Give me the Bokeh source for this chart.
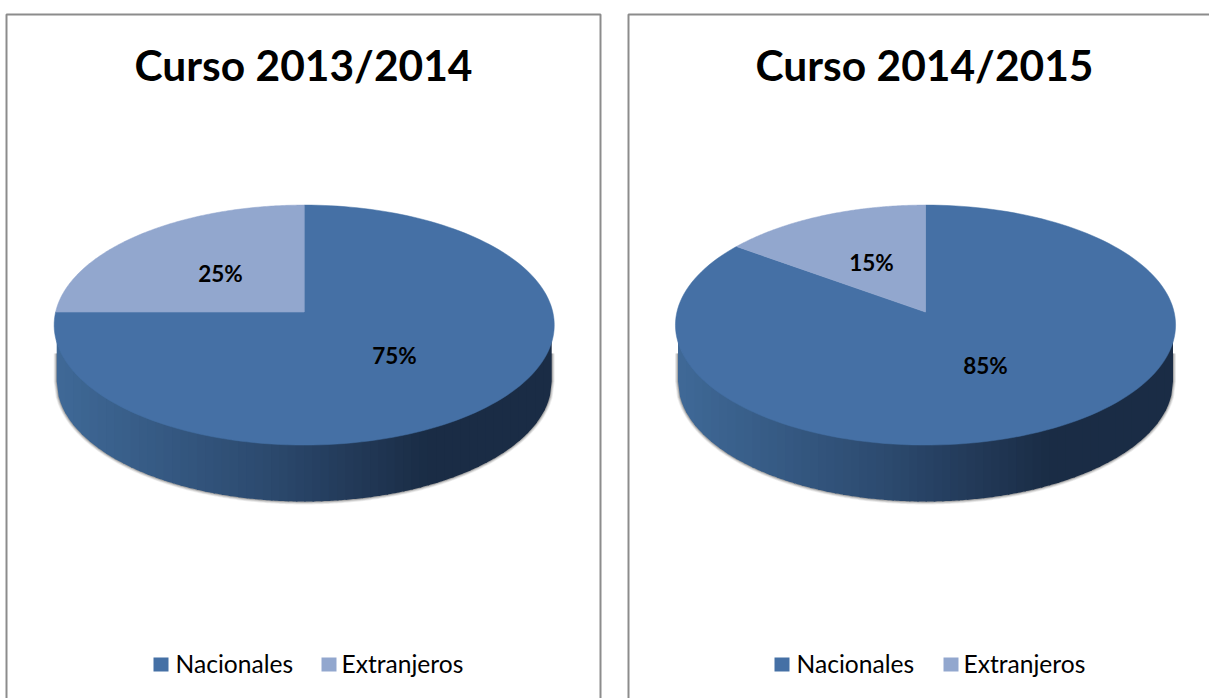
import numpy as np
from bokeh.embed import file_html
from bokeh.resources import INLINE
from bokeh.plotting import figure
from bokeh.layouts import row
from bokeh.core.properties import value

titles = ["Curso 2013/2014", "Curso 2014/2015"]
categories = ["Nacionales", "Extranjeros"]
nacionales = [75, 85]
extranjeros = [25, 15]
colors = ["#4570A5", "#92A7CE"]

# page-pixel geometry
PANELS = [(0, 614, 6, 600), (614, 1209, 628, 1240)]
CX = [303.7, 925]
LABEL_POS = [((394, 355), (220, 273)), ((985, 365), (871, 262))]
TITLE_X = [303, 924]
LEG_X = [(153, 175, 321, 341), (774, 796, 943, 963)]
VY, K, XS, YS = 311.6, 0.108, 248.6, 118.6
EY, EA, EB = 325.0, 250.0, 120.0
DEPTH = 56.0


def proj(cx, turn):
    th = 2 * np.pi * turn
    u, v = np.sin(th), np.cos(th)
    d = 1 + K * v
    return cx + XS * u / d, VY - YS * v / d


def wedge(cx, t0, t1):
    t = np.linspace(t0, t1, 160)
    x, y = proj(cx, t)
    return np.r_[cx, x], np.r_[VY, y]


def lerp_color(f):
    stops = [(0.0, (0x3F, 0x69, 0x97)), (0.42, (0x2C, 0x4A, 0x6F)), (0.75, (0x1A, 0x2C, 0x45)), (1.0, (0x1A, 0x2C, 0x45))]
    for (a, ca), (b, cb) in zip(stops, stops[1:]):
        if f <= b:
            s = (f - a) / (b - a)
            return "#%02x%02x%02x" % tuple(int(round(p + (q - p) * s)) for p, q in zip(ca, cb))
    return "#1a2c45"


figs = []
for i in range(2):
    x0, x1, bl, br = PANELS[i]
    cx = CX[i]
    p = figure(width=x1 - x0, height=698, x_range=(x0, x1), y_range=(698, 0),
               output_backend="svg", toolbar_location=None, min_border=0,
               x_axis_type=None, y_axis_type=None)
    p.grid.visible = False
    p.outline_line_color = None
    p.background_fill_color = "white"
    p.border_fill_color = "white"

    p.quad(left=[bl], right=[br], top=[14], bottom=[720], fill_color="white",
           line_color="#8C8C8C", line_width=2)

    # side of the disc, its lower rim and soft shadow
    A2 = EA - 2.5
    xs = np.linspace(-1, 1, 240)
    for grow, alpha in [(3.0, 0.10), (2.2, 0.14), (1.4, 0.2), (0.7, 0.28)]:
        a, b = A2 + grow, EB + grow
        p.patch(np.r_[cx - a, cx + a * xs, cx + a],
                np.r_[EY + 28, EY + DEPTH + b * np.sqrt(1 - xs**2), EY + 28],
                fill_color="#555555", fill_alpha=alpha, line_color=None)

    edges = np.linspace(-A2, A2, 61)
    for l, r in zip(edges[:-1], edges[1:]):
        m = np.linspace(l, min(r + 1.5, A2), 6)
        top = EY + EB * np.sqrt(np.clip(1 - (m / EA) ** 2, 0, 1)) - 2
        bot = EY + DEPTH + EB * np.sqrt(np.clip(1 - (m / A2) ** 2, 0, 1))
        c = lerp_color((0.5 * (l + r) + A2) / (2 * A2))
        p.patch(np.r_[cx + m, cx + m[::-1]], np.r_[top, bot[::-1]],
                fill_color=c, line_color=None)

    # top face
    share_n = nacionales[i] / 100
    wx, wy = wedge(cx, 0, share_n)
    p.patch(wx, wy, fill_color=colors[0], line_color=colors[0], line_width=0.5)
    wx, wy = wedge(cx, share_n, 1)
    p.patch(wx, wy, fill_color=colors[1], line_color=colors[1], line_width=0.5)

    p.text([TITLE_X[i]], [64], text=[titles[i]], text_font=value("Lato"),
           text_font_style="bold", text_font_size="42.5px", text_color="#000000",
           text_align="center", text_baseline="middle")
    vals = [nacionales[i], extranjeros[i]]
    for (lx, ly), v in zip(LABEL_POS[i], vals):
        p.text([lx], [ly], text=[f"{v}%"], text_font=value("Lato"),
               text_font_style="bold", text_font_size="22.5px", text_color="#000000",
               text_align="center", text_baseline="middle")

    s0, t0, s1, t1 = LEG_X[i]
    for sx, tx, cat, col in zip((s0, s1), (t0, t1), categories, colors):
        p.quad(left=[sx], right=[sx + 15], top=[657], bottom=[671],
               fill_color=col, line_color=None)
        p.text([tx], [662.5], text=[cat], text_font=value("Lato"),
               text_font_size="24.6px", text_color="#000000",
               text_align="left", text_baseline="middle")
    figs.append(p)

layout = row(figs[0], figs[1], spacing=0)
layout.styles = {"position": "absolute", "left": "0", "top": "0"}
open("out.html", "w").write(file_html(layout, INLINE))
